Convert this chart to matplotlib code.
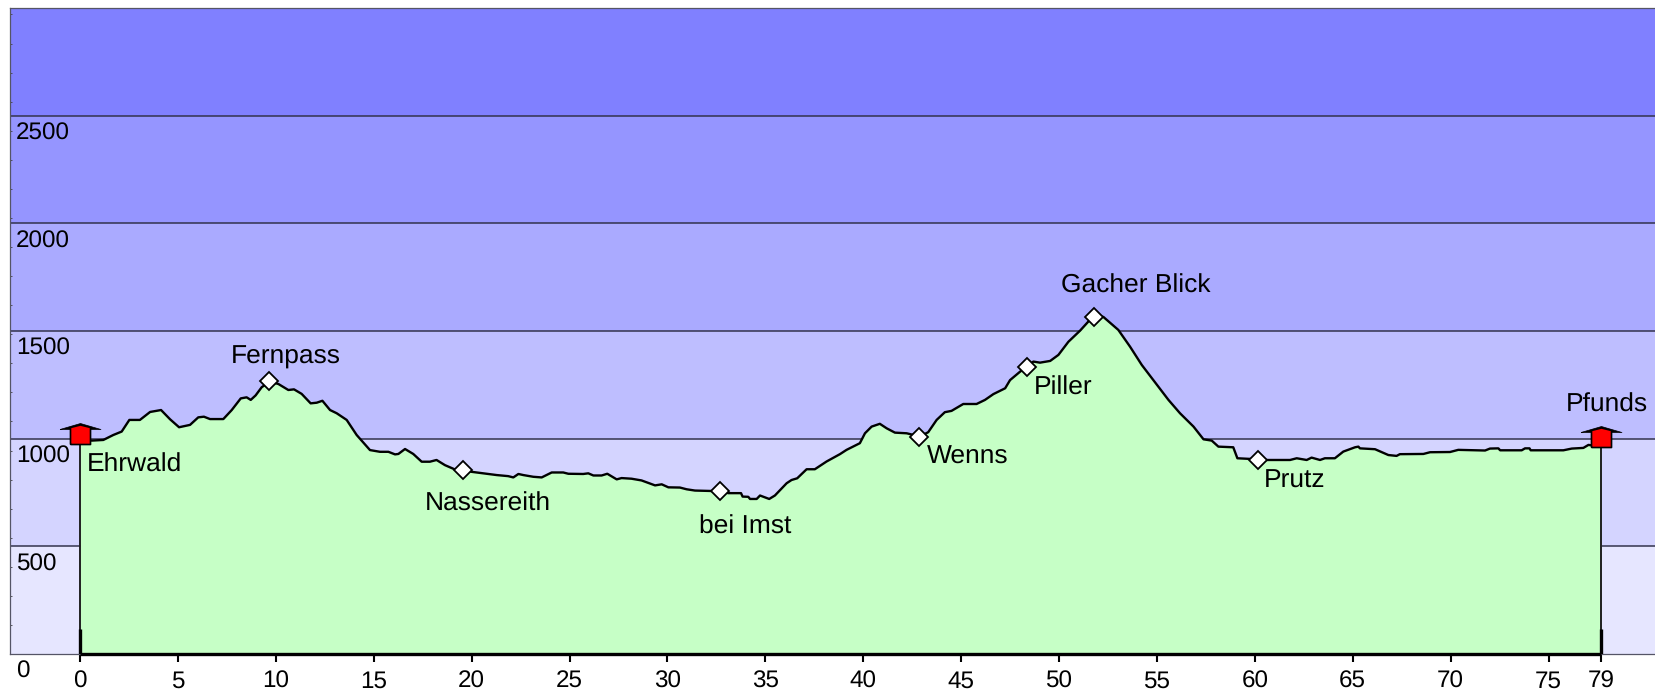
import matplotlib.pyplot as plt
from matplotlib.path import Path
from matplotlib.ticker import MultipleLocator

plt.rcParams['font.family'] = ['Liberation Sans', 'DejaVu Sans']
plt.rcParams['text.hinting'] = 'no_hinting'

# profile
km = [0, 0.6, 1.19, 1.70, 2.13, 2.52, 3.06, 3.58, 4.14, 4.60, 5.06, 5.62, 6.04, 6.33, 6.64, 7.32, 7.75, 8.21,
      8.51, 8.72, 8.97, 9.28, 9.70, 10.13, 10.64, 10.93, 11.32, 11.78, 12.09, 12.38, 12.77, 13.11, 13.62, 14.13,
      14.81, 15.32, 15.75, 16.09, 16.26, 16.6, 17.02, 17.45, 17.87, 18.21, 18.64, 19.15, 19.58, 20.0, 20.6, 21.28,
      21.87, 22.13, 22.39, 22.64, 23.15, 23.58, 24.09, 24.68, 24.94, 25.7, 25.96, 26.22, 26.64, 26.93, 27.41,
      27.66, 28.17, 28.68, 29.37, 29.71, 30.05, 30.64, 30.98, 31.41, 32.26, 32.68, 33.11, 33.76, 33.84, 34.13,
      34.22, 34.56, 34.73, 35.2, 35.49, 36.09, 36.34, 36.63, 37.11, 37.53, 38.13, 38.81, 39.15, 39.83, 40.09,
      40.43, 40.85, 41.2, 41.62, 42.22, 42.9, 43.32, 43.75, 44.17, 44.51, 45.11, 45.79, 46.22, 46.65, 47.25,
      47.5, 48.01, 48.35, 48.69, 49.03, 49.55, 49.97, 50.48, 51.08, 51.81, 52.27, 53.03, 53.63, 54.23, 54.82,
      55.59, 56.18, 56.87, 57.38, 57.8, 58.14, 58.9, 59.11, 59.75, 60.18, 61.8, 62.14, 62.65, 62.9, 63.33, 63.58,
      64.09, 64.52, 65.12, 65.29, 65.37, 66.14, 66.82, 67.24, 67.41, 68.61, 68.95, 69.97, 70.39, 71.76, 72.01,
      72.44, 72.53, 73.63, 73.8, 74.03, 74.09, 75.76, 76.19, 76.78, 77.04, 77.29, 77.7]
elev = [1000, 991, 994, 1017, 1033, 1087, 1087, 1124, 1133, 1090, 1053, 1064, 1099, 1102, 1091, 1091, 1133, 1187,
        1192, 1180, 1201, 1239, 1265, 1254, 1226, 1229, 1208, 1164, 1167, 1176, 1133, 1118, 1087, 1017,
        947, 939, 939, 927, 929, 952, 929, 893, 893, 901, 877, 857, 857, 846, 839, 831,
        826, 820, 836, 831, 823, 820, 843, 843, 837, 836, 839, 829, 829, 837, 811,
        817, 814, 806, 783, 788, 774, 773, 765, 759, 757, 757, 747, 747, 731, 730,
        720, 720, 736, 720, 736, 793, 808, 816, 858, 858, 894, 928, 948, 979, 1025,
        1056, 1069, 1048, 1028, 1025, 1010, 1030, 1087, 1123, 1129, 1161, 1161, 1180, 1207, 1234,
        1272, 1311, 1334, 1358, 1353, 1361, 1389, 1450, 1502, 1575, 1565, 1505, 1427, 1342, 1272,
        1180, 1118, 1056, 997, 991, 963, 960, 909, 906, 901, 901, 909, 901, 912, 901, 909,
        909, 940, 960, 963, 955, 951, 924, 920, 928, 929, 937, 938, 948, 945, 954,
        955, 946, 946, 955, 955, 946, 946, 954, 957, 971, 968, 968]

stop_names = ['Fernpass', 'Nassereith', 'bei Imst', 'Wenns', 'Piller', 'Gacher Blick', 'Prutz']
stop_km = [9.67, 19.55, 32.69, 42.87, 48.35, 51.8, 60.18]
stop_m = [1269, 855, 757, 1009, 1332, 1567, 901]
stop_off = [(16, 24), (25, -34), (25, -36), (48, -20), (36, -21), (42, 31), (36, -21)]

end_names = ['Ehrwald', 'Pfunds']
end_km = [0, 77.7]
end_m = [1000, 985]
end_off = [(54, -26), (6, 37)]

band_edges = [0, 500, 1000, 1500, 2000, 2500, 3000]
band_colors = ['#e6e6ff', '#d4d4ff', '#bebeff', '#aaaaff', '#9595ff', '#8080ff']
y_labels = [0, 500, 1000, 1500, 2000, 2500]

x_ticks = [0, 5, 10, 15, 20, 25, 30, 35, 40, 45, 50, 55, 60, 65, 70, 75, 77.7]
x_labels = ['0', '5', '10', '15', '20', '25', '30', '35', '40', '45', '50', '55', '60', '65', '70', '75', '79']

fig = plt.figure(figsize=(16.56, 6.93), dpi=100)
ax = fig.add_axes([10 / 1656, 39 / 693, 1646 / 1656, 646 / 693])
ax.set_xlim(-3.575, 80.49)
ax.set_ylim(0, 3000)

for i, col in enumerate(band_colors):
    ax.axhspan(band_edges[i], band_edges[i + 1], color=col, lw=0, zorder=0)
ax.hlines(band_edges[1:-1], -3.575, 80.49, color='#33334d', lw=1.1, zorder=1)

ax.fill_between(km, elev, 0, color='#c6ffc6', lw=0, zorder=2)
ax.plot(km, elev, color='black', lw=1.7, zorder=3)
ax.vlines([km[0], km[-1]], 0, [elev[0], elev[-1]], color='#202020', lw=1.4, zorder=3)
ax.vlines([km[0], km[-1]], 0, 115, color='black', lw=2.4, zorder=3)
ax.hlines(0, km[0], km[-1], color='black', lw=2.4, zorder=4, clip_on=False)

ax.plot(stop_km, stop_m, ls='none', marker='D', ms=9, mfc='white', mec='black', mew=1.3, zorder=5)

# start and finish arrows
head = Path([(-20.5, 10), (0, 16), (20.5, 10), (0, 10), (-20.5, 10)])
body = Path([(-10, -5), (10, -5), (10, 12), (0, 14.5), (-10, 12), (-10, -5)])
ax.plot(end_km, end_m, ls='none', marker=head, ms=29.5, mfc='black', mec='black', mew=0.5, zorder=6)
ax.plot(end_km, end_m, ls='none', marker=body, ms=20.9, mfc='#ff0000', mec='black', mew=1.2, zorder=6)

for name, x, y, off in zip(stop_names + end_names, stop_km + end_km, stop_m + end_m, stop_off + end_off):
    ax.annotate(name, (x, y), xytext=off, textcoords='offset pixels', ha='center', va='center',
                fontsize=19, color='black', zorder=7)

for val in y_labels:
    ax.annotate(str(val), (-3.575, val), xytext=(6, -18), textcoords='offset pixels', ha='left', va='center',
                fontsize=17.5, color='black', zorder=7, annotation_clip=False)

ax.set_xticks(x_ticks)
ax.set_xticklabels(x_labels, fontsize=17.5)
ax.set_yticks([])
ax.yaxis.set_minor_locator(MultipleLocator(135))
ax.tick_params(axis='y', which='minor', direction='in', length=1.5, width=0.6, color='#444444')
ax.tick_params(axis='x', length=5.5, width=1.5, pad=6, color='black')

ax.spines['right'].set_visible(False)
for side in ['left', 'top', 'bottom']:
    ax.spines[side].set_color('#555566')
    ax.spines[side].set_linewidth(0.9)

plt.savefig('out.png', dpi=100)
